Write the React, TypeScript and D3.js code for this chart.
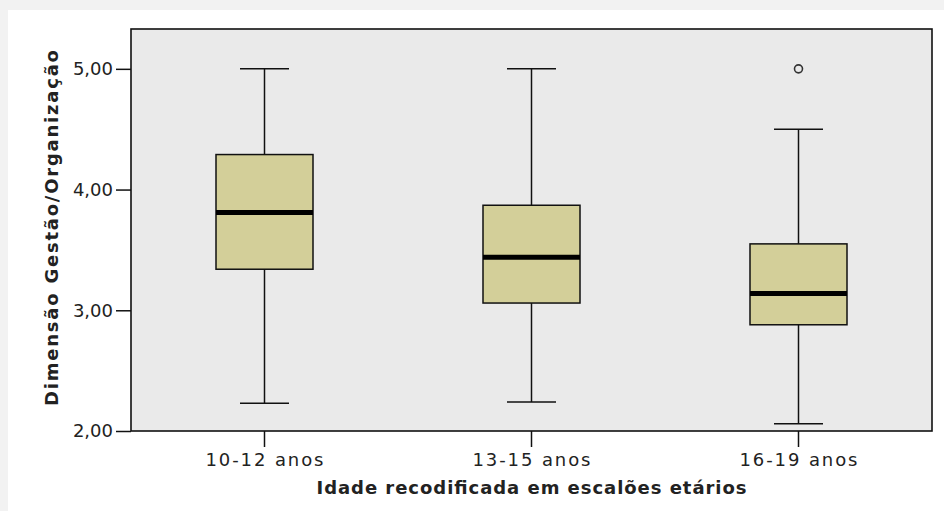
import { useEffect, useRef } from "react";
import * as d3 from "d3";

const categories = ["10-12 anos", "13-15 anos", "16-19 anos"];
const mins = [2.23, 2.24, 2.06];
const q1s = [3.34, 3.06, 2.88];
const medians = [3.81, 3.44, 3.14];
const q3s = [4.29, 3.87, 3.55];
const maxs = [5.0, 5.0, 4.5];
const outliers = [
  { cat: "16-19 anos", value: 5.0 },
];
const yTicks = [2, 3, 4, 5];

const yTitle = "Dimensão Gestão/Organização";
const xTitle = "Idade recodificada em escalões etários";

const W = 944;
const H = 511;
const plot = { left: 131, right: 932, top: 29, bottom: 431 };
const FONT = "'DejaVu Sans', Verdana, sans-serif";

const COLORS = {
  page: "#f2f2f2",
  panel: "#ffffff",
  plotBg: "#eaeaea",
  box: "#d3cf99",
  ink: "#111111",
  text: "#222222",
};

export default function App() {
  const svgRef = useRef<SVGSVGElement>(null);

  useEffect(() => {
    if (!svgRef.current) return;
    const svg = d3.select(svgRef.current);
    svg.selectAll("*").remove();

    const x = d3.scaleBand().domain(categories).range([plot.left, plot.right]).padding(0);
    const y = d3.scaleLinear().domain([2, 5.33]).range([plot.bottom, plot.top]);
    const boxW = 97;
    const capW = 49;

    svg.append("rect").attr("width", W).attr("height", H).attr("fill", COLORS.page);
    svg.append("rect").attr("x", 8).attr("y", 10).attr("width", W - 8).attr("height", H - 10).attr("fill", COLORS.panel);

    // plot background
    svg.append("rect")
      .attr("x", plot.left).attr("y", plot.top)
      .attr("width", plot.right - plot.left).attr("height", plot.bottom - plot.top)
      .attr("fill", COLORS.plotBg);

    const boxes = categories.map((c, i) => ({
      cat: c, min: mins[i], q1: q1s[i], med: medians[i], q3: q3s[i], max: maxs[i],
    }));

    const g = svg.append("g");
    boxes.forEach((b) => {
      const cx = (x(b.cat) ?? 0) + x.bandwidth() / 2;
      // whiskers
      g.append("line").attr("x1", cx).attr("x2", cx).attr("y1", y(b.max)).attr("y2", y(b.q3))
        .attr("stroke", COLORS.ink).attr("stroke-width", 1.5);
      g.append("line").attr("x1", cx).attr("x2", cx).attr("y1", y(b.q1)).attr("y2", y(b.min))
        .attr("stroke", COLORS.ink).attr("stroke-width", 1.5);
      g.append("line").attr("x1", cx - capW / 2).attr("x2", cx + capW / 2).attr("y1", y(b.max)).attr("y2", y(b.max))
        .attr("stroke", COLORS.ink).attr("stroke-width", 1.5);
      g.append("line").attr("x1", cx - capW / 2).attr("x2", cx + capW / 2).attr("y1", y(b.min)).attr("y2", y(b.min))
        .attr("stroke", COLORS.ink).attr("stroke-width", 1.5);
      // box
      g.append("rect")
        .attr("x", cx - boxW / 2).attr("y", y(b.q3))
        .attr("width", boxW).attr("height", y(b.q1) - y(b.q3))
        .attr("fill", COLORS.box).attr("stroke", COLORS.ink).attr("stroke-width", 1.5);
      // median
      g.append("line").attr("x1", cx - boxW / 2).attr("x2", cx + boxW / 2).attr("y1", y(b.med)).attr("y2", y(b.med))
        .attr("stroke", "#000").attr("stroke-width", 5);
    });

    outliers.forEach((o) => {
      const cx = (x(o.cat) ?? 0) + x.bandwidth() / 2;
      g.append("circle").attr("cx", cx).attr("cy", y(o.value)).attr("r", 4)
        .attr("fill", "none").attr("stroke", "#333").attr("stroke-width", 1.6);
    });

    // frame
    svg.append("rect")
      .attr("x", plot.left).attr("y", plot.top)
      .attr("width", plot.right - plot.left).attr("height", plot.bottom - plot.top)
      .attr("fill", "none").attr("stroke", COLORS.ink).attr("stroke-width", 1.6);

    // Y axis
    svg.append("g")
      .attr("transform", `translate(${plot.left},0)`)
      .call(d3.axisLeft(y).tickValues(yTicks).tickSize(15).tickPadding(3)
        .tickFormat((d) => d3.format(".2f")(Number(d)).replace(".", ",")))
      .call((a) => a.select(".domain").remove())
      .call((a) => a.selectAll("line").attr("stroke", COLORS.ink).attr("stroke-width", 1.5))
      .call((a) => a.selectAll("text")
        .attr("fill", COLORS.text).attr("font-size", 18).attr("font-family", FONT));

    // X axis
    svg.append("g")
      .attr("transform", `translate(0,${plot.bottom})`)
      .call(d3.axisBottom(x).tickSize(16).tickPadding(6))
      .call((a) => a.select(".domain").remove())
      .call((a) => a.selectAll("line").attr("stroke", COLORS.ink).attr("stroke-width", 1.5))
      .call((a) => a.selectAll("text")
        .attr("fill", COLORS.text).attr("font-size", 18).attr("font-family", FONT)
        .attr("textLength", 118).attr("lengthAdjust", "spacing"));

    // titles
    svg.append("text")
      .attr("x", (plot.left + plot.right) / 2).attr("y", 494)
      .attr("text-anchor", "middle")
      .attr("font-size", 18).attr("font-weight", "bold").attr("font-family", FONT)
      .attr("fill", COLORS.text)
      .attr("textLength", 430).attr("lengthAdjust", "spacing")
      .text(xTitle);

    svg.append("text")
      .attr("transform", `translate(58,${(plot.top + plot.bottom) / 2 - 2}) rotate(-90)`)
      .attr("text-anchor", "middle")
      .attr("font-size", 18).attr("font-weight", "bold").attr("font-family", FONT)
      .attr("fill", COLORS.text)
      .attr("textLength", 356).attr("lengthAdjust", "spacing")
      .text(yTitle);
  }, []);

  return (
    <svg
      ref={svgRef}
      width={W}
      height={H}
      style={{ position: "absolute", left: 0, top: 0, display: "block" }}
    />
  );
}
